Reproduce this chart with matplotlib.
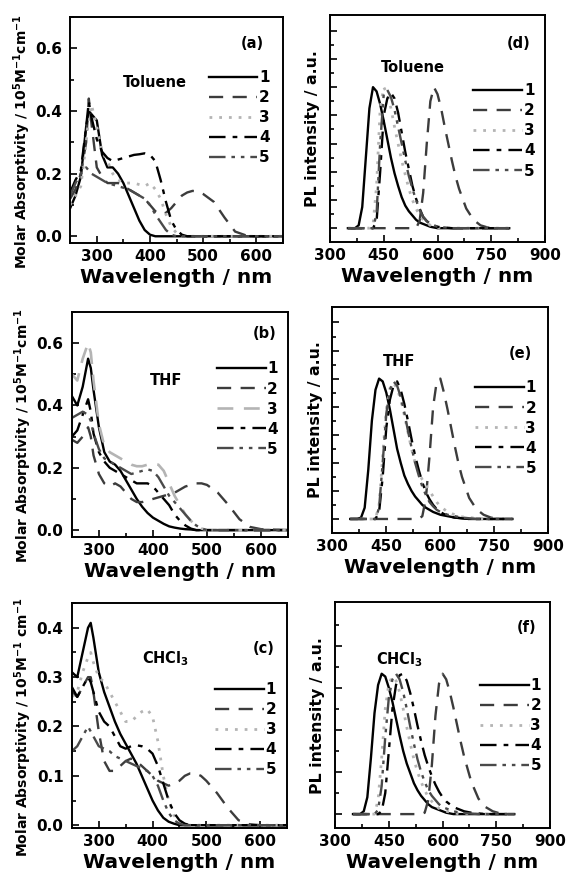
import matplotlib
matplotlib.use('Agg')
import matplotlib.pyplot as plt
from matplotlib.ticker import MultipleLocator, FixedLocator

plt.rcParams['font.family'] = ['DejaVu Sans']
plt.rcParams['font.weight'] = 'bold'
plt.rcParams['mathtext.fontset'] = 'dejavusans'
plt.rcParams['mathtext.default'] = 'bf'

# absorption wavelengths (nm)
abs_wl = [250, 260, 270, 280, 285, 290, 300, 310, 320, 330, 340, 350, 360, 370, 380, 390,
          400, 410, 420, 430, 440, 450, 460, 470, 480, 490, 500, 520, 540, 560, 580, 600, 650]

# (a) toluene absorption
tol_abs1 = [.09, .13, .19, .35, .40, .39, .37, .26, .22, .22, .20, .17, .13, .09, .05, .02, .005,
            0, 0, 0, 0, 0, 0, 0, 0, 0, 0, 0, 0, 0, 0, 0, 0]
tol_abs2 = [.12, .15, .20, .30, .44, .36, .22, .19, .17, .17, .17, .16, .15, .14, .13, .12, .10,
            .08, .07, .075, .09, .11, .13, .14, .145, .143, .135, .11, .06, .015, .003, 0, 0]
tol_abs3 = [.10, .13, .16, .30, .38, .42, .35, .27, .24, .20, .18, .17, .17, .17, .165, .16, .17,
            .15, .12, .07, .03, .01, 0, 0, 0, 0, 0, 0, 0, 0, 0, 0, 0]
tol_abs4 = [.14, .18, .21, .35, .43, .38, .31, .27, .25, .24, .245, .25, .255, .26, .262, .265, .26,
            .24, .18, .11, .05, .02, .005, 0, 0, 0, 0, 0, 0, 0, 0, 0, 0]
tol_abs5 = [.13, .17, .20, .22, .21, .20, .19, .18, .17, .165, .16, .155, .15, .14, .13, .12, .10,
            .07, .045, .02, .005, 0, 0, 0, 0, 0, 0, 0, 0, 0, 0, 0, 0]

# (b) THF absorption
thf_abs1 = [.43, .40, .46, .55, .52, .45, .33, .25, .22, .21, .19, .16, .13, .10, .075, .055, .04,
            .03, .02, .012, .008, .005, .003, .002, 0, 0, 0, 0, 0, 0, 0, 0, 0]
thf_abs2 = [.29, .28, .30, .33, .30, .24, .18, .15, .14, .15, .14, .12, .10, .09, .09, .095, .10,
            .105, .11, .115, .12, .13, .14, .145, .15, .15, .145, .12, .08, .035, .01, .003, 0]
thf_abs3 = [.50, .48, .55, .60, .57, .48, .34, .27, .25, .24, .23, .22, .21, .205, .205, .21, .21,
            .21, .19, .15, .11, .08, .05, .03, .015, .005, 0, 0, 0, 0, 0, 0, 0]
thf_abs4 = [.30, .32, .37, .42, .38, .31, .25, .22, .20, .19, .18, .17, .16, .15, .15, .15, .14,
            .12, .10, .08, .05, .03, .015, .005, 0, 0, 0, 0, 0, 0, 0, 0, 0]
thf_abs5 = [.36, .37, .38, .37, .35, .31, .26, .23, .22, .21, .20, .19, .18, .185, .19, .195, .19,
            .17, .14, .11, .09, .07, .05, .03, .015, .005, 0, 0, 0, 0, 0, 0, 0]

# (c) CHCl3 absorption
chl_abs1 = [.31, .30, .35, .40, .41, .38, .31, .27, .24, .21, .185, .165, .145, .125, .10, .075, .05,
            .03, .015, .007, .003, 0, 0, 0, 0, 0, 0, 0, 0, 0, 0, 0, 0]
chl_abs2 = [.27, .26, .28, .30, .30, .27, .19, .13, .11, .11, .12, .13, .135, .13, .12, .11, .10,
            .09, .085, .08, .085, .09, .10, .105, .105, .10, .09, .065, .035, .01, .002, 0, 0]
chl_abs3 = [.26, .27, .31, .34, .35, .33, .30, .29, .27, .25, .23, .21, .21, .22, .23, .235, .22,
            .17, .10, .05, .02, .005, 0, 0, 0, 0, 0, 0, 0, 0, 0, 0, 0]
chl_abs4 = [.28, .26, .28, .30, .29, .27, .23, .21, .20, .18, .16, .155, .16, .162, .16, .155, .145,
            .12, .085, .05, .025, .01, .003, 0, 0, 0, 0, 0, 0, 0, 0, 0, 0]
chl_abs5 = [.15, .16, .18, .20, .19, .18, .16, .155, .15, .14, .135, .13, .125, .12, .115, .11, .10,
            .08, .05, .025, .01, .003, 0, 0, 0, 0, 0, 0, 0, 0, 0, 0, 0]

# PL wavelengths (nm), intensities normalised to peak
pl_wl = [350, 370, 380, 390, 400, 410, 420, 430, 440, 450, 460, 470, 480, 490, 500, 510, 520, 530, 540,
         550, 560, 570, 580, 590, 600, 610, 620, 630, 640, 650, 660, 680, 700, 720, 740, 760, 780, 800]

# (d) toluene PL
tol_pl1 = [0, 0, .02, .15, .5, .85, 1.0, .97, .88, .76, .63, .5, .39, .30, .22, .16, .12, .09, .06,
           .04, .03, .02, .01, .005, 0, 0, 0, 0, 0, 0, 0, 0, 0, 0, 0, 0, 0, 0]
tol_pl2 = [0, 0, 0, 0, 0, 0, 0, 0, 0, 0, 0, 0, 0, 0, 0, 0, 0, 0, 0,
           .05, .25, .6, .9, 1.0, .95, .85, .72, .6, .48, .37, .28, .14, .06, .02, .005, 0, 0, 0]
tol_pl3 = [0, 0, 0, 0, 0, 0, .02, .3, .85, 1.0, .95, .85, .72, .6, .48, .38, .28, .2, .14,
           .09, .06, .04, .02, .01, .005, 0, 0, 0, 0, 0, 0, 0, 0, 0, 0, 0, 0, 0]
tol_pl4 = [0, 0, 0, 0, 0, 0, 0, .05, .4, .8, .92, .96, .92, .82, .68, .54, .42, .3, .21,
           .14, .08, .05, .03, .02, .01, .007, .005, .002, 0, 0, 0, 0, 0, 0, 0, 0, 0, 0]
tol_pl5 = [0, 0, 0, 0, 0, 0, 0, .1, .6, .95, .98, .93, .84, .72, .6, .48, .37, .28, .2,
           .13, .08, .05, .03, .02, .01, .007, .005, .002, 0, 0, 0, 0, 0, 0, 0, 0, 0, 0]

# (e) THF PL
thf_pl1 = [0, 0, .01, .08, .35, .7, .92, 1.0, .98, .9, .78, .64, .5, .4, .31, .25, .2, .16, .13,
           .1, .08, .065, .05, .04, .03, .025, .02, .015, .01, .008, .005, 0, 0, 0, 0, 0, 0, 0]
thf_pl2 = [0, 0, 0, 0, 0, 0, 0, 0, 0, 0, 0, 0, 0, 0, 0, 0, 0, 0, 0,
           .02, .15, .45, .8, .98, 1.0, .9, .78, .65, .52, .4, .3, .15, .07, .03, .01, 0, 0, 0]
thf_pl3 = [0, 0, 0, 0, 0, 0, 0, .1, .45, .78, .93, .97, .93, .85, .74, .62, .5, .4, .33,
           .28, .24, .2, .16, .12, .09, .07, .05, .04, .03, .02, .015, .01, .005, 0, 0, 0, 0, 0]
thf_pl4 = [0, 0, 0, 0, 0, 0, 0, .05, .3, .65, .85, .95, .98, .92, .82, .7, .57, .45, .35,
           .26, .19, .14, .1, .07, .05, .035, .025, .015, .01, .007, .005, 0, 0, 0, 0, 0, 0, 0]
thf_pl5 = [0, 0, 0, 0, 0, 0, 0, .08, .4, .75, .92, .98, .95, .87, .76, .63, .51, .4, .31,
           .23, .17, .12, .09, .065, .05, .04, .03, .025, .02, .015, .01, .005, 0, 0, 0, 0, 0, 0]

# (f) CHCl3 PL
chl_pl1 = [0, 0, .02, .12, .4, .72, .92, 1.0, .98, .9, .8, .68, .56, .45, .36, .29, .22, .17, .13,
           .1, .07, .05, .04, .03, .02, .01, .005, 0, 0, 0, 0, 0, 0, 0, 0, 0, 0, 0]
chl_pl2 = [0, 0, 0, 0, 0, 0, 0, 0, 0, 0, 0, 0, 0, 0, 0, 0, 0, 0, 0,
           .01, .1, .35, .7, .93, 1.0, .96, .87, .76, .64, .52, .41, .23, .11, .05, .02, .005, 0, 0]
chl_pl3 = [0, 0, 0, 0, 0, 0, .1, .4, .75, .93, .98, .95, .87, .75, .62, .5, .39, .3, .23,
           .17, .12, .09, .06, .04, .03, .02, .015, .01, .005, 0, 0, 0, 0, 0, 0, 0, 0, 0]
chl_pl4 = [0, 0, 0, 0, 0, 0, 0, .02, .15, .45, .75, .92, .99, 1.0, .95, .86, .75, .63, .52,
           .42, .34, .27, .21, .16, .12, .09, .07, .05, .04, .03, .02, .01, .005, 0, 0, 0, 0, 0]
chl_pl5 = [0, 0, 0, 0, 0, 0, .03, .2, .55, .83, .96, 1.0, .96, .87, .75, .62, .5, .39, .3,
           .23, .17, .13, .1, .07, .05, .04, .03, .02, .015, .01, .008, .004, 0, 0, 0, 0, 0, 0]

labels = ['1', '2', '3', '4', '5']

styles = [
    dict(color='black', ls='-', lw=1.7),
    dict(color='#3c3c3c', ls=(0, (6, 4)), lw=1.7),
    dict(color='#b4b4b4', ls=(0, (1, 2.5)), lw=2.0),
    dict(color='black', ls=(0, (7, 3, 2, 3)), lw=1.7),
    dict(color='#4a4a4a', ls=(0, (7, 2.5, 1.5, 2.5, 1.5, 2.5)), lw=1.7),
]
# in THF the third absorption curve is drawn dashed
thf_styles = list(styles)
thf_styles[2] = dict(color='#b4b4b4', ls=(0, (6, 4)), lw=1.9)

fig = plt.figure(figsize=(5.66, 8.81), dpi=100)


def style_axis(ax):
    for sp in ax.spines.values():
        sp.set_linewidth(1.4)
    ax.tick_params(which='both', direction='in', top=False, right=False, width=1.2,
                   labelsize=11)
    ax.tick_params(axis='x', pad=4)
    ax.tick_params(axis='y', pad=6)
    ax.tick_params(which='major', length=5)
    ax.tick_params(which='minor', length=3)
    ax.set_xlabel('Wavelength / nm', fontsize=14.5, fontweight='bold', labelpad=3)


def add_legend(ax, leg_xy):
    ax.legend(loc='upper left', bbox_to_anchor=leg_xy, frameon=False, fontsize=11,
              handlelength=3.2, handletextpad=0.1, labelspacing=0.33, borderpad=0,
              borderaxespad=0)


def abs_panel(rect, series, sty, ylim, ystep, ylabel, tag, tag_xy, solvent, solv_xy, leg_xy):
    ax = fig.add_axes(rect)
    for y, s, lab in zip(series, sty, labels):
        ax.plot(abs_wl, y, label=lab, **s)
    ax.set_xlim(250, 650)
    ax.set_ylim(*ylim)
    ax.xaxis.set_major_locator(MultipleLocator(100))
    ax.xaxis.set_minor_locator(MultipleLocator(50))
    ax.yaxis.set_major_locator(MultipleLocator(ystep))
    ax.yaxis.set_minor_locator(MultipleLocator(ystep / 2))
    ax.yaxis.set_major_formatter(plt.FormatStrFormatter('%.1f'))
    style_axis(ax)
    ax.set_ylabel(ylabel, fontsize=10, fontweight='bold')
    ax.yaxis.set_label_coords(-0.175, 0.45)
    ax.text(*tag_xy, tag, fontsize=10.5, fontweight='bold', ha='center', va='center')
    ax.text(*solv_xy, solvent, fontsize=10.5, fontweight='bold', ha='center', va='center')
    add_legend(ax, leg_xy)
    return ax


def pl_panel(rect, series, yticks, tag, tag_xy, solvent, solv_xy, leg_xy):
    ax = fig.add_axes(rect)
    for y, s, lab in zip(series, styles, labels):
        ax.plot(pl_wl, y, label=lab, **s)
    ax.set_xlim(300, 900)
    ax.set_ylim(-0.1, 1.51)
    ax.xaxis.set_major_locator(MultipleLocator(150))
    ax.xaxis.set_minor_locator(MultipleLocator(75))
    ax.yaxis.set_major_locator(FixedLocator(yticks[::2]))
    ax.yaxis.set_minor_locator(FixedLocator(yticks[1::2]))
    ax.set_yticklabels([])
    style_axis(ax)
    ax.set_ylabel('PL intensity / a.u.', fontsize=11.3, fontweight='bold')
    ax.yaxis.set_label_coords(-0.045, 0.5)
    ax.text(*tag_xy, tag, fontsize=10.5, fontweight='bold', ha='center', va='center')
    ax.text(*solv_xy, solvent, fontsize=10.5, fontweight='bold', ha='center', va='center')
    add_legend(ax, leg_xy)
    return ax


abs_label = r'Molar Absorptivity / 10$^5$M$^{-1}$cm$^{-1}$'
abs_label_c = r'Molar Absorptivity / 10$^5$M$^{-1}$ cm$^{-1}$'

pl_ticks = [0, 0.1, 0.2, 0.3, 0.4, 0.5, 0.6, 0.7, 0.8, 0.9, 1.0, 1.1, 1.2, 1.3, 1.4]
pl_ticks_f = [0, 0.15, 0.3, 0.45, 0.6, 0.75, 0.9, 1.05, 1.2, 1.35]

abs_panel([0.124, 0.724, 0.376, 0.2565],
          [tol_abs1, tol_abs2, tol_abs3, tol_abs4, tol_abs5], styles,
          (-0.022, 0.70), 0.2, abs_label, '(a)', (593, 0.616), 'Toluene', (409, 0.49),
          (0.65, 0.765))
abs_panel([0.127, 0.3905, 0.382, 0.2554],
          [thf_abs1, thf_abs2, thf_abs3, thf_abs4, thf_abs5], thf_styles,
          (-0.022, 0.70), 0.2, abs_label, '(b)', (606, 0.63), 'THF', (425, 0.48),
          (0.67, 0.78))
abs_panel([0.127, 0.060, 0.380, 0.2554],
          [chl_abs1, chl_abs2, chl_abs3, chl_abs4, chl_abs5], styles,
          (-0.006, 0.45), 0.1, abs_label_c, '(c)', (606, 0.358), r'CHCl$_3$', (425, 0.338),
          (0.667, 0.65))

pl_panel([0.583, 0.725, 0.380, 0.2577],
         [tol_pl1, tol_pl2, tol_pl3, tol_pl4, tol_pl5], pl_ticks,
         '(d)', (825, 1.31), 'Toluene', (532, 1.14), (0.667, 0.70))
pl_panel([0.587, 0.395, 0.382, 0.2565],
         [thf_pl1, thf_pl2, thf_pl3, thf_pl4, thf_pl5], pl_ticks,
         '(e)', (821, 1.18), 'THF', (485, 1.12), (0.66, 0.675))
pl_panel([0.592, 0.060, 0.380, 0.2565],
         [chl_pl1, chl_pl2, chl_pl3, chl_pl4, chl_pl5], pl_ticks_f,
         '(f)', (835, 1.33), r'CHCl$_3$', (481, 1.1), (0.674, 0.665))

fig.savefig('out.png', dpi=100)
